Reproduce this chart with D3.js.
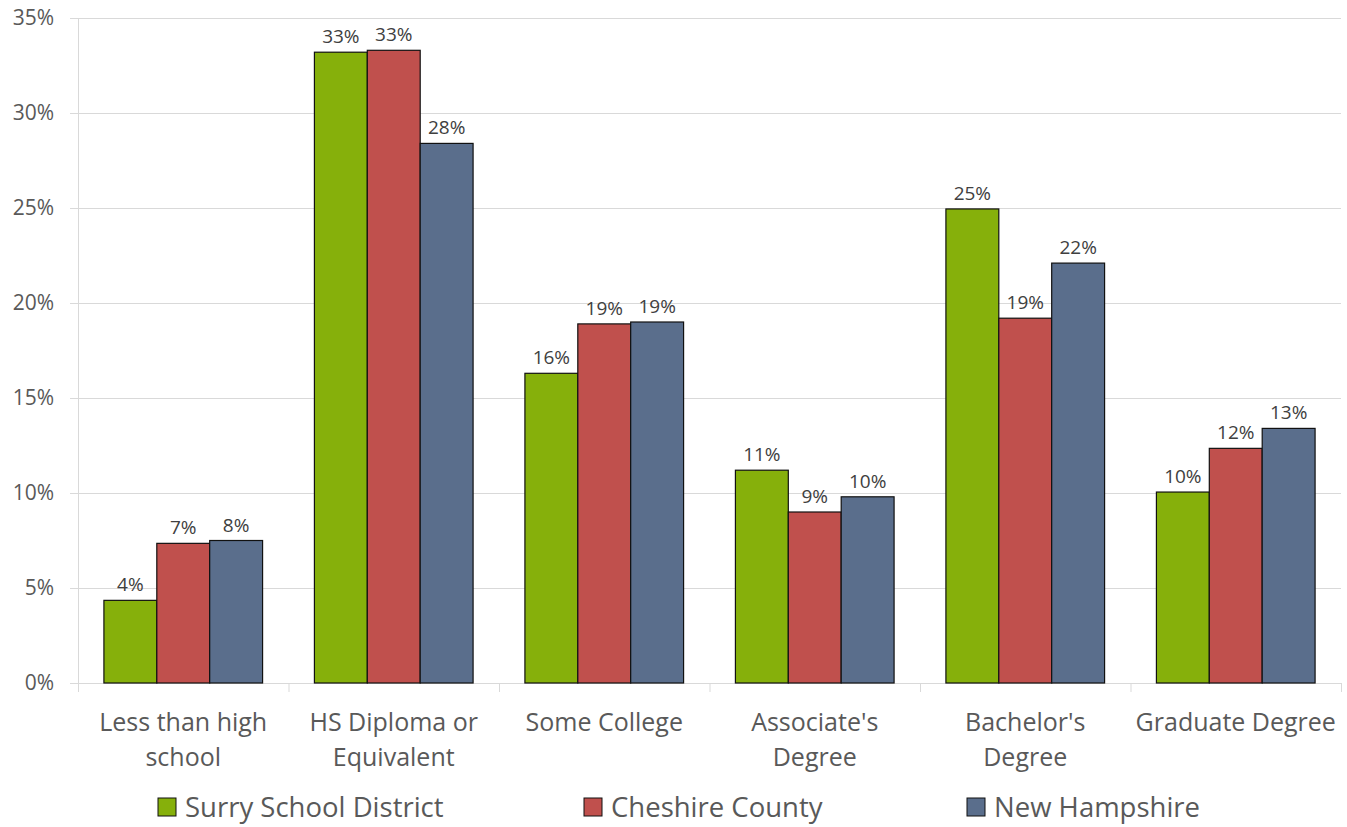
<!DOCTYPE html>
<html lang="en">
<head>
<meta charset="utf-8">
<title>Educational Attainment</title>
<script src="https://cdn.jsdelivr.net/npm/d3@7"></script>
<style>
  body { margin: 0; background: #fff; }
  svg { font-family: "Open Sans", "Noto Sans", sans-serif; }
  .grid line { stroke: #d9d9d9; }
</style>
</head>
<body>
<script>
// categories and series values (percent)
const categories = ["Less than high school", "HS Diploma or Equivalent", "Some College",
  "Associate's Degree", "Bachelor's Degree", "Graduate Degree"];
const catLines = [["Less than high", "school"], ["HS Diploma or", "Equivalent"], ["Some College"],
  ["Associate's", "Degree"], ["Bachelor's", "Degree"], ["Graduate Degree"]];
const seriesNames = ["Surry School District", "Cheshire County", "New Hampshire"];
const surry = [4.35, 33.2, 16.3, 11.2, 24.95, 10.05];
const cheshire = [7.35, 33.3, 18.9, 9.0, 19.2, 12.35];
const newHampshire = [7.5, 28.4, 19.0, 9.8, 22.1, 13.4];
const yTicks = [0, 5, 10, 15, 20, 25, 30, 35];
const colors = ["#86b00b", "#c0504d", "#5a6e8c"];

let w = 1347, h = 827;
let padLeft = 78, padRight = 1341, padTop = 18, padBottom = 683;

let values = [surry, cheshire, newHampshire];

let svg = d3.select("body").append("svg")
  .attr("width", w)
  .attr("height", h);

let x = d3.scaleBand()
  .domain(categories)
  .range([padLeft, padRight])
  .paddingInner(0)
  .paddingOuter(0);

// bars fill ~75% of each category slot
let inner = d3.scaleBand()
  .domain(seriesNames)
  .range([0, x.bandwidth()])
  .paddingOuter(0.49)
  .paddingInner(0);

let y = d3.scaleLinear()
  .domain([0, 35])
  .range([padBottom, padTop]);

// gridlines
svg.append("g")
  .attr("class", "grid")
  .selectAll("line")
  .data(yTicks)
  .enter()
  .append("line")
  .attr("x1", padLeft - 8)
  .attr("x2", padRight)
  .attr("y1", d => y(d) + 0.5)
  .attr("y2", d => y(d) + 0.5);

// y axis line
svg.append("line")
  .attr("x1", padLeft + 0.5).attr("x2", padLeft + 0.5)
  .attr("y1", padTop).attr("y2", padBottom)
  .attr("stroke", "#d9d9d9");

// category separators
let seps = categories.map(c => x(c)).concat([padRight]);
svg.append("g")
  .selectAll("line")
  .data(seps)
  .enter()
  .append("line")
  .attr("x1", d => d + 0.5).attr("x2", d => d + 0.5)
  .attr("y1", padBottom).attr("y2", padBottom + 9)
  .attr("stroke", "#d9d9d9");

// y tick labels
svg.append("g")
  .selectAll("text")
  .data(yTicks)
  .enter()
  .append("text")
  .attr("x", 54)
  .attr("y", d => y(d) + 7)
  .attr("text-anchor", "end")
  .attr("font-size", 21)
  .attr("fill", "#595959")
  .text(d => d + "%");

// bars
let groups = svg.append("g")
  .selectAll("g")
  .data(categories)
  .enter()
  .append("g")
  .attr("transform", d => "translate(" + x(d) + ",0)");

groups.selectAll("rect")
  .data((d, i) => seriesNames.map((s, j) => ({ s: s, j: j, v: values[j][i] })))
  .enter()
  .append("rect")
  .attr("x", d => inner(d.s))
  .attr("y", d => y(d.v))
  .attr("width", inner.bandwidth())
  .attr("height", d => y(0) - y(d.v))
  .attr("fill", d => colors[d.j])
  .attr("stroke", "#111")
  .attr("stroke-width", 1.2);

groups.selectAll("text.lbl")
  .data((d, i) => seriesNames.map((s, j) => ({ s: s, j: j, v: values[j][i] })))
  .enter()
  .append("text")
  .attr("class", "lbl")
  .attr("x", d => inner(d.s) + inner.bandwidth() / 2)
  .attr("y", d => y(d.v) - 9)
  .attr("text-anchor", "middle")
  .attr("font-size", 19)
  .attr("fill", "#404040")
  .text(d => Math.round(d.v) + "%");

// category labels
let catText = svg.append("g")
  .selectAll("text")
  .data(categories)
  .enter()
  .append("text")
  .attr("x", d => x(d) + x.bandwidth() / 2)
  .attr("y", 731)
  .attr("text-anchor", "middle")
  .attr("font-size", 25)
  .attr("fill", "#595959");

catText.selectAll("tspan")
  .data((d, i) => catLines[i])
  .enter()
  .append("tspan")
  .attr("x", function() { return d3.select(this.parentNode).attr("x"); })
  .attr("dy", (d, i) => i === 0 ? 0 : 35)
  .text(d => d);

// legend
let legendX = [158, 584, 967];
let legend = svg.append("g")
  .selectAll("g")
  .data(seriesNames)
  .enter()
  .append("g")
  .attr("transform", (d, i) => "translate(" + legendX[i] + ",798)");

legend.append("rect")
  .attr("width", 18)
  .attr("height", 18)
  .attr("fill", (d, i) => colors[i])
  .attr("stroke", "#111")
  .attr("stroke-width", 1);

legend.append("text")
  .attr("x", 27)
  .attr("y", 19)
  .attr("font-size", 27.5)
  .attr("fill", "#595959")
  .text(d => d);
</script>
</body>
</html>
